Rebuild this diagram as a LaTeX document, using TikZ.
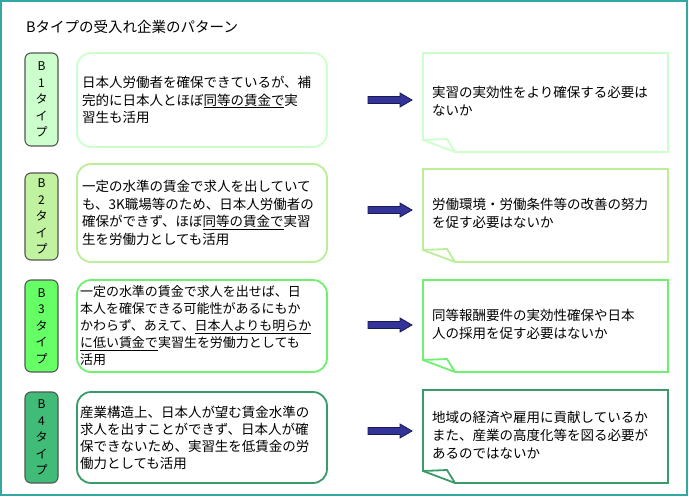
\documentclass[tikz,border=0pt]{standalone}
\usepackage{fontspec}
\setmainfont{Noto Sans CJK JP}

\definecolor{frameteal}{HTML}{33A8A0}
\definecolor{tagedge}{HTML}{555555}
\definecolor{typeone}{HTML}{CCFFCC}
\definecolor{typetwo}{HTML}{C0F2A0}
\definecolor{typethree}{HTML}{66FF66}
\definecolor{typefour}{HTML}{40BB78}
\definecolor{edgeone}{HTML}{CCFFCC}
\definecolor{edgetwo}{HTML}{BBEE99}
\definecolor{edgethree}{HTML}{70F070}
\definecolor{edgefour}{HTML}{3A9A6A}
\definecolor{arrownavy}{HTML}{333399}
\definecolor{arrowedge}{HTML}{1A1A4D}

\tikzset{
	tagbox/.style={draw=tagedge, line width=1.1pt, rounded corners=6pt, minimum width=33, inner sep=0pt, align=center, font=\fontsize{12}{16.5}\selectfont},
	midbox/.style={line width=1.8pt, rounded corners=14pt, minimum width=250, inner sep=0pt, align=left, font=\fontsize{13.5}{17.5}\selectfont},
	notetext/.style={anchor=west, inner sep=0pt, align=left, font=\fontsize{13.5}{18}\selectfont},
	notebox/.style={line width=1.8pt, line join=miter},
	blockarrow/.style={fill=arrownavy, draw=arrowedge, line width=0.8pt}
}

\begin{document}
\begin{tikzpicture}[x=1pt,y=-1pt]
		\useasboundingbox (0,0) rectangle (689,496);
		
		% Frame
		\draw[frameteal, line width=2pt] (1,1) rectangle (687,495);
		
		% Title
		\node[anchor=west, inner sep=0pt, font=\fontsize{14.5}{17}\selectfont] (title) at (26,27) {Bタイプの受入れ企業のパターン};
		
		% B1
		\node[tagbox, fill=typeone, minimum height=93] (tag1) at (41.5,99.5) {B\\1\\タ\\イ\\プ};
		\node[midbox, draw=edgeone, minimum height=94, text width=240] (mid1) at (202,100)
			{日本人労働者を確保できているが、補\\完的に日本人とほぼ\underline{同等の賃金で}実\\習生も活用};
		
		% B2
		\node[tagbox, fill=typetwo, minimum height=87] (tag2) at (41.5,216.5) {B\\2\\タ\\イ\\プ};
		\node[midbox, draw=edgetwo, minimum height=98, text width=240] (mid2) at (202,213)
			{一定の水準の賃金で求人を出していて\\も、3K職場等のため、日本人労働者の\\確保ができず、ほぼ\underline{同等の賃金で}実習\\生を労働力としても活用};
		
		% B3
		\node[tagbox, fill=typethree, minimum height=92] (tag3) at (41.5,326) {B\\3\\タ\\イ\\プ};
		\node[midbox, draw=edgethree, minimum height=92, text width=244, font=\fontsize{13}{17}\selectfont] (mid3) at (202,326)
			{一定の水準の賃金で求人を出せば、日\\本人を確保できる可能性があるにもか\\かわらず、あえて、\underline{日本人よりも明らか}\\\underline{に低い賃金で}実習生を労働力としても\\活用};
		
		% B4
		\node[tagbox, fill=typefour, minimum height=91] (tag4) at (41.5,437.5) {B\\4\\タ\\イ\\プ};
		\node[midbox, draw=edgefour, minimum height=91, text width=244, font=\fontsize{13.5}{17}\selectfont] (mid4) at (202,437.5)
			{産業構造上、日本人が望む賃金水準の\\求人を出すことができず、日本人が確\\保できないため、実習生を低賃金の労\\働力としても活用};
		
		% Arrows
		\foreach \y in {100,210,325,431}
			\filldraw[blockarrow] (368,\y-3.5) -- (400,\y-3.5) -- (400,\y-7) -- (412,\y)
				-- (400,\y+7) -- (400,\y+3.5) -- (368,\y+3.5) -- cycle;
		
		% Notes
		\draw[notebox, draw=edgeone] (423,53) -- (668,53) -- (668,152) -- (455,152) -- (423,140) -- cycle;
		\draw[notebox, draw=edgeone] (423,140) -- (447,139) -- (455,152);
		\node[notetext] (note1) at (432,101) {実習の実効性をより確保する必要は\\ないか};
		
		\draw[notebox, draw=edgetwo] (423,169) -- (668,169) -- (668,262) -- (455,262) -- (423,250) -- cycle;
		\draw[notebox, draw=edgetwo] (423,250) -- (447,249) -- (455,262);
		\node[notetext] (note2) at (432,213) {労働環境・労働条件等の改善の努力\\を促す必要はないか};
		
		\draw[notebox, draw=edgethree] (423,280) -- (668,280) -- (668,372) -- (455,372) -- (423,360) -- cycle;
		\draw[notebox, draw=edgethree] (423,360) -- (447,359) -- (455,372);
		\node[notetext] (note3) at (432,324) {同等報酬要件の実効性確保や日本\\人の採用を促す必要はないか};
		
		\draw[notebox, draw=edgefour] (423,390) -- (668,390) -- (668,483) -- (455,483) -- (423,471) -- cycle;
		\draw[notebox, draw=edgefour] (423,471) -- (447,470) -- (455,483);
		\node[notetext] (note4) at (432,435) {地域の経済や雇用に貢献しているか\\また、産業の高度化等を図る必要が\\あるのではないか};
	\end{tikzpicture}
\end{document}
